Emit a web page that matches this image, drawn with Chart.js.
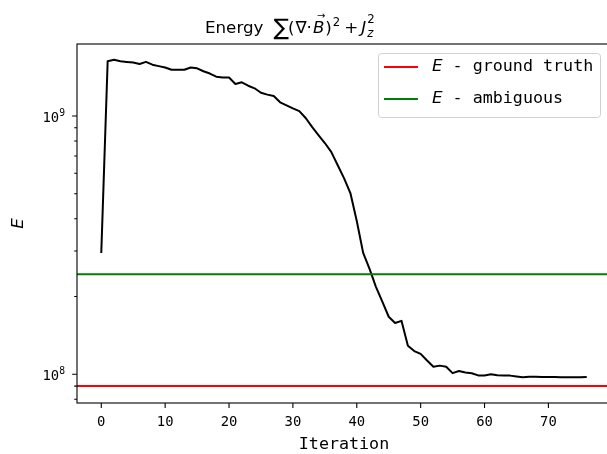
<!DOCTYPE html>
<html>
<head>
<meta charset="utf-8">
<script src="https://cdn.jsdelivr.net/npm/chart.js@4.4.0/dist/chart.umd.min.js"></script>
<style>
  html, body { margin: 0; padding: 0; background: #fff; overflow: hidden; }
  #wrap { width: 607px; height: 454px; overflow: hidden; }
</style>
</head>
<body>
<div id="wrap"><canvas id="energyChart" width="615" height="454"></canvas></div>
<script>
// energy per iteration
const iterations = [
  0, 1, 2, 3, 4, 5, 6, 7, 8, 9, 10, 11, 12, 13, 14, 15, 16, 17, 18, 19,
  20, 21, 22, 23, 24, 25, 26, 27, 28, 29, 30, 31, 32, 33, 34, 35, 36, 37, 38, 39,
  40, 41, 42, 43, 44, 45, 46, 47, 48, 49, 50, 51, 52, 53, 54, 55, 56, 57, 58, 59,
  60, 61, 62, 63, 64, 65, 66, 67, 68, 69, 70, 71, 72, 73, 74, 75, 76
];
const energy = [
  2.95e8, 1.63e9, 1.65e9, 1.63e9, 1.62e9, 1.61e9, 1.59e9, 1.62e9, 1.58e9, 1.56e9,
  1.54e9, 1.51e9, 1.51e9, 1.51e9, 1.54e9, 1.53e9, 1.49e9, 1.46e9, 1.42e9, 1.41e9,
  1.41e9, 1.33e9, 1.35e9, 1.31e9, 1.28e9, 1.23e9, 1.21e9, 1.195e9, 1.13e9, 1.10e9,
  1.07e9, 1.045e9, 9.82e8, 9.07e8, 8.44e8, 7.86e8, 7.26e8, 6.46e8, 5.75e8, 5.03e8,
  3.92e8, 2.95e8, 2.56e8, 2.18e8, 1.91e8, 1.67e8, 1.58e8, 1.61e8, 1.29e8, 1.23e8,
  1.20e8, 1.13e8, 1.07e8, 1.08e8, 1.07e8, 1.01e8, 1.03e8, 1.016e8, 1.009e8, 9.9e7,
  9.9e7, 1.0e8, 9.91e7, 9.89e7, 9.88e7, 9.81e7, 9.74e7, 9.79e7, 9.78e7, 9.76e7,
  9.76e7, 9.75e7, 9.74e7, 9.74e7, 9.74e7, 9.74e7, 9.76e7
];
const groundTruth = 9.0e7;
const ambiguous = 2.44e8;

const xRange = [-3.8, 79.8];
const yRange = [7.74e7, 1.9e9];
const xTickValues = [0, 10, 20, 30, 40, 50, 60, 70];
const yTickValues = [8e7, 9e7, 1e8, 2e8, 3e8, 4e8, 5e8, 6e8, 7e8, 8e8, 9e8, 1e9];
const yTickLabels = { 1e8: '10^8', 1e9: '10^9' };

const SANS = '"DejaVu Sans"';
const MONO = '"DejaVu Sans Mono"';

// spines, outward tick marks (major / minor) and the 10^n labels on the log axis
const frameTicks = {
  id: 'frameTicks',
  afterDraw(chart) {
    const { ctx, chartArea: a, scales: { x, y } } = chart;
    ctx.save();
    ctx.strokeStyle = '#000';
    ctx.lineWidth = 1.1;
    ctx.strokeRect(a.left, a.top, a.right - a.left, a.bottom - a.top);
    ctx.beginPath();
    x.ticks.forEach(t => {
      const px = x.getPixelForValue(t.value);
      ctx.moveTo(px, a.bottom);
      ctx.lineTo(px, a.bottom + 4.9);
    });
    y.ticks.forEach(t => {
      const py = y.getPixelForValue(t.value);
      const len = yTickLabels[t.value] ? 4.9 : 2.8;
      ctx.moveTo(a.left, py);
      ctx.lineTo(a.left - len, py);
    });
    ctx.stroke();

    ctx.fillStyle = '#000';
    ctx.textBaseline = 'alphabetic';
    y.ticks.forEach(t => {
      const lab = yTickLabels[t.value];
      if (!lab) return;
      const [b, e] = lab.split('^');
      const py = y.getPixelForValue(t.value);
      ctx.font = '9.7px ' + MONO;
      const ew = ctx.measureText(e).width;
      ctx.font = '13.9px ' + MONO;
      const bw = ctx.measureText(b).width;
      const right = a.left - 12;
      ctx.fillText(b, right - ew - bw, py + 6);
      ctx.font = '9.7px ' + MONO;
      ctx.fillText(e, right - ew, py);
    });
    ctx.restore();
  }
};

// title with the math bits
const mathTitle = {
  id: 'mathTitle',
  afterDraw(chart) {
    const ctx = chart.ctx;
    const reg = '16.7px ' + SANS, ital = 'italic 16.7px ' + SANS;
    const small = '11.7px ' + SANS, smallItal = 'italic 11.7px ' + SANS;
    const base = 33;
    let x = 205;
    ctx.save();
    ctx.fillStyle = '#000';
    ctx.textBaseline = 'alphabetic';
    const put = (text, font, dx = 0, dy = 0) => {
      ctx.font = font;
      x += dx;
      ctx.fillText(text, x, base + dy);
      const w = ctx.measureText(text).width;
      x += w;
      return w;
    };
    put('Energy', reg);
    put('∑', '23px ' + SANS, 10, 2);
    put('(', reg, -1);
    put('∇', reg, 1);
    put('·', reg, 0);
    const bx = x;
    const bw = put('B', ital, 1);
    ctx.font = '10px ' + SANS;
    ctx.fillText('→', bx + bw * 0.45, base - 14);
    put(')', reg, 1);
    put('2', small, 1, -7);
    put('+', reg, 4);
    put('J', ital, 3);
    const sx = x + 1;
    ctx.font = small;
    ctx.fillText('2', sx, base - 10);
    ctx.font = smallItal;
    ctx.fillText('z', sx, base + 4);
    ctx.restore();
  }
};

// legend box in the upper right of the plot area
const cornerLegend = {
  id: 'cornerLegend',
  afterDraw(chart) {
    const ctx = chart.ctx;
    const items = chart.data.datasets.filter(d => d.legendText);
    const left = 378, top = 53, w = 222, h = 64, rowH = 32;
    ctx.save();
    ctx.fillStyle = 'rgba(255,255,255,0.8)';
    ctx.strokeStyle = '#d0d0d0';
    ctx.lineWidth = 1;
    ctx.beginPath();
    ctx.roundRect(left + 0.5, top + 0.5, w, h, 3);
    ctx.fill();
    ctx.stroke();
    items.forEach((d, i) => {
      const cy = top + 14 + i * rowH;
      ctx.strokeStyle = d.borderColor;
      ctx.lineWidth = 2;
      ctx.beginPath();
      ctx.moveTo(left + 6, cy);
      ctx.lineTo(left + 40, cy);
      ctx.stroke();
      ctx.fillStyle = '#000';
      ctx.textBaseline = 'middle';
      ctx.font = 'italic 16.7px ' + SANS;
      ctx.fillText('E', left + 54, cy);
      const ew = ctx.measureText('E').width;
      ctx.font = '16.7px ' + MONO;
      ctx.fillText(' - ' + d.legendText, left + 54 + ew, cy);
    });
    ctx.restore();
  }
};

const hline = v => [{ x: xRange[0], y: v }, { x: xRange[1], y: v }];

new Chart(document.getElementById('energyChart'), {
  type: 'line',
  data: {
    labels: iterations,
    datasets: [
      { data: hline(groundTruth), borderColor: 'red', legendText: 'ground truth' },
      { data: hline(ambiguous), borderColor: 'green', legendText: 'ambiguous' },
      { data: energy, borderColor: 'black' }
    ]
  },
  options: {
    responsive: false,
    animation: false,
    layout: { padding: { top: 44, right: 4, left: 0, bottom: 0 } },
    elements: {
      line: { borderWidth: 2, tension: 0, borderJoinStyle: 'round', fill: false },
      point: { radius: 0, hoverRadius: 0 }
    },
    plugins: { legend: { display: false }, tooltip: { enabled: false }, title: { display: false } },
    scales: {
      x: {
        type: 'linear', min: xRange[0], max: xRange[1],
        afterBuildTicks: s => { s.ticks = xTickValues.map(v => ({ value: v })); },
        afterFit: s => { s.height = 51; },
        grid: { display: false, drawTicks: false },
        border: { display: false },
        ticks: {
          autoSkip: false, maxRotation: 0, padding: 11, color: '#000',
          font: { family: MONO, size: 13.9 },
          callback: v => String(v)
        },
        title: {
          display: true, text: 'Iteration', color: '#000',
          font: { family: MONO, size: 16.7, lineHeight: 1.08 },
          padding: { top: 0, bottom: 0 }
        }
      },
      y: {
        type: 'logarithmic', min: yRange[0], max: yRange[1],
        afterBuildTicks: s => { s.ticks = yTickValues.map(v => ({ value: v })); },
        afterFit: s => { s.width = 77; },
        grid: { display: false, drawTicks: false },
        border: { display: false },
        ticks: { display: false, autoSkip: false },
        title: {
          display: true, text: 'E', color: '#000',
          font: { family: SANS, style: 'italic', size: 16.7, lineHeight: 1.2 },
          padding: { top: 9, bottom: 0 }
        }
      }
    }
  },
  plugins: [frameTicks, mathTitle, cornerLegend]
});
</script>
</body>
</html>
